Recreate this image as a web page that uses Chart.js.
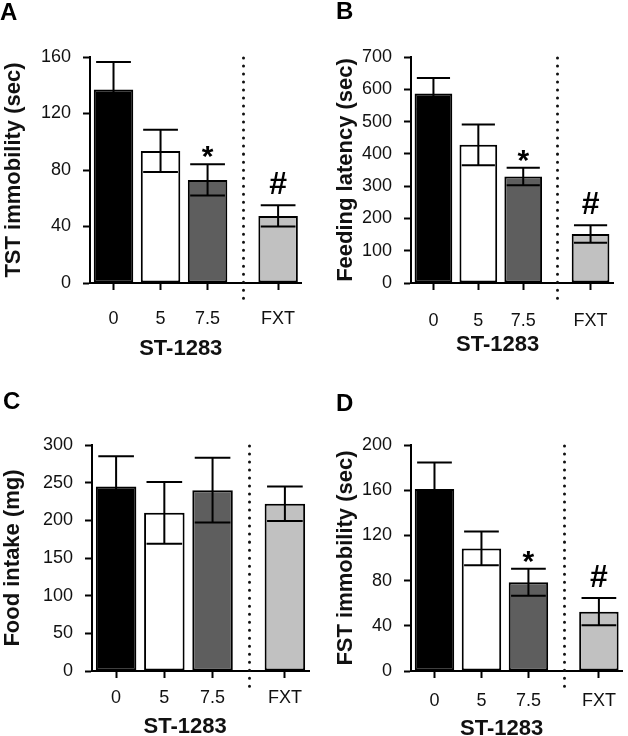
<!DOCTYPE html>
<html lang="en">
<head>
  <meta charset="UTF-8">
  <title>ST-1283 behavioural tests</title>
  <script src="https://cdn.jsdelivr.net/npm/chart.js"></script>
  <style>
    body {
      margin: 0;
      background: #fff;
      font-family: "Liberation Sans", Arial, sans-serif;
    }
    .wrap {
      position: relative;
      width: 628px;
      height: 736px;
    }
    .panel {
      position: absolute;
      width: 314px;
      height: 368px;
    }
  </style>
</head>
<body>
  <div class="wrap">
    <div class="panel" style="left:0;top:0"><canvas id="panelA" width="314" height="368"></canvas></div>
    <div class="panel" style="left:314px;top:0"><canvas id="panelB" width="314" height="368"></canvas></div>
    <div class="panel" style="left:0;top:368px"><canvas id="panelC" width="314" height="368"></canvas></div>
    <div class="panel" style="left:314px;top:368px"><canvas id="panelD" width="314" height="368"></canvas></div>
  </div>
  <script>
    // groups: three ST-1283 doses and fluoxetine
    const categories = ['0', '5', '7.5', 'FXT'];
    const groupPositions = [0, 1, 2, 3.5];
    const dividerPosition = 2.75;
    const xAxisTitle = 'ST-1283';
    const sigMarks = ['', '', '*', '#'];
    const noMarks = ['', '', '', ''];

    const tstValues = [137, 93.5, 73, 47.5];
    const tstErrors = [19.5, 15, 11, 7.5];
    const tstTicks = [0, 40, 80, 120, 160];

    const latencyValues = [587, 428, 330, 152];
    const latencyErrors = [48, 63, 27, 27];
    const latencyTicks = [0, 100, 200, 300, 400, 500, 600, 700];

    const intakeValues = [245, 210, 240, 222];
    const intakeErrors = [40, 41, 43, 23];
    const intakeTicks = [0, 50, 100, 150, 200, 250, 300];

    const fstValues = [161, 108.5, 78.5, 52.5];
    const fstErrors = [23.5, 15, 12, 12];
    const fstTicks = [0, 40, 80, 120, 160, 200];

    const barColors = ['#000000', '#ffffff', '#5e5e5e', '#c1c1c1'];
    const FONT = '"Liberation Sans", Arial, sans-serif';

    // extra drawing: error bars, significance marks, dotted divider, x title, panel letter
    const extrasPlugin = {
      id: 'extras',
      afterDatasetsDraw(chart, args, opts) {
        const ctx = chart.ctx;
        const xs = chart.scales.x, ys = chart.scales.y;
        const meta = chart.getDatasetMeta(0);
        const area = chart.chartArea;
        ctx.save();

        // dotted divider
        const dx = Math.round(xs.getPixelForValue(dividerPosition)) + 0.5;
        ctx.strokeStyle = '#111';
        ctx.lineWidth = 3;
        ctx.lineCap = 'round';
        ctx.setLineDash([0.01, 8]);
        ctx.beginPath();
        ctx.moveTo(dx, area.top + 1);
        ctx.lineTo(dx, area.bottom + 20);
        ctx.stroke();
        ctx.setLineDash([]);

        // error bars
        ctx.lineCap = 'butt';
        ctx.lineWidth = 2;
        ctx.strokeStyle = '#000';
        opts.values.forEach((v, i) => {
          const bar = meta.data[i];
          const x = bar.x;
          const half = bar.width * 0.44;
          const yTop = ys.getPixelForValue(v + opts.errors[i]);
          const yBot = ys.getPixelForValue(v - opts.errors[i]);
          ctx.beginPath();
          ctx.moveTo(x, yTop);
          ctx.lineTo(x, yBot);
          ctx.moveTo(x - half, yTop);
          ctx.lineTo(x + half, yTop);
          ctx.moveTo(x - half, yBot);
          ctx.lineTo(x + half, yBot);
          ctx.stroke();

          const mark = opts.marks[i];
          if (mark) {
            ctx.fillStyle = '#000';
            ctx.textAlign = 'center';
            ctx.textBaseline = 'alphabetic';
            if (mark === '*') {
              ctx.font = 'bold 30px ' + FONT;
              ctx.fillText(mark, x, yTop + 2);
            } else {
              ctx.font = 'bold 32px ' + FONT;
              ctx.fillText(mark, x, yTop - opts.hashGap);
            }
          }
        });

        // x axis title
        ctx.fillStyle = '#111';
        ctx.textAlign = 'center';
        ctx.textBaseline = 'alphabetic';
        ctx.font = 'bold 22px ' + FONT;
        ctx.fillText(xAxisTitle, xs.getPixelForValue(1.43), opts.titleBaseline);

        // panel letter
        ctx.textAlign = 'left';
        ctx.font = 'bold 24px ' + FONT;
        ctx.fillStyle = '#000';
        ctx.fillText(opts.letter, opts.letterX, opts.letterY + 17);
        ctx.restore();
      }
    };

    function makePanel(id, p) {
      const W = 314, H = 368;
      new Chart(document.getElementById(id), {
        type: 'bar',
        data: {
          datasets: [{
            data: groupPositions.map((x, i) => ({ x: x, y: p.values[i] })),
            backgroundColor: barColors,
            borderColor: '#000',
            borderWidth: 2,
            borderSkipped: false,
            barPercentage: 0.84,
            categoryPercentage: 1
          }]
        },
        options: {
          responsive: false,
          animation: false,
          devicePixelRatio: 1,
          layout: { padding: { left: 0, top: p.area.t, right: W - p.area.r, bottom: 0 } },
          plugins: {
            legend: { display: false },
            tooltip: { enabled: false },
            extras: {
              values: p.values, errors: p.errors, marks: p.marks,
              hashGap: 11, titleBaseline: p.titleY + 8,
              letter: p.letter, letterX: p.letterX, letterY: p.letterY
            }
          },
          scales: {
            x: {
              type: 'linear',
              min: -0.5,
              max: 4,
              offset: false,
              afterBuildTicks: (s) => { s.ticks = groupPositions.map(v => ({ value: v })); },
              afterFit: (s) => { s.height = H - p.area.b; },
              ticks: {
                autoSkip: false,
                maxRotation: 0,
                padding: p.tickPad,
                color: '#111',
                font: { family: FONT, size: 18 },
                callback: (v, i) => categories[i]
              },
              grid: {
                offset: false,
                drawOnChartArea: false,
                drawTicks: true,
                tickLength: 7,
                tickWidth: 2,
                tickColor: '#000'
              },
              border: { display: true, color: '#000', width: 2 }
            },
            y: {
              min: 0,
              max: p.ticks[p.ticks.length - 1],
              afterBuildTicks: (s) => { s.ticks = p.ticks.map(v => ({ value: v })); },
              afterFit: (s) => { s.width = p.area.l; },
              ticks: {
                padding: 12,
                color: '#111',
                font: { family: FONT, size: 18 }
              },
              grid: {
                drawOnChartArea: false,
                drawTicks: true,
                tickLength: 7,
                tickWidth: 2,
                tickColor: '#000'
              },
              border: { display: true, color: '#000', width: 2 },
              title: {
                display: true,
                text: p.yTitle,
                color: '#111',
                font: { family: FONT, size: 22, weight: 'bold' },
                padding: { top: p.yTitlePad, bottom: 0 }
              }
            }
          }
        },
        plugins: [extrasPlugin]
      });
    }

    makePanel('panelA', {
      values: tstValues, errors: tstErrors, ticks: tstTicks, marks: sigMarks,
      yTitle: 'TST immobility (sec)', letter: 'A', letterX: 0, letterY: 3,
      area: { l: 90, t: 57, r: 306, b: 283 }, tickPad: 18, titleY: 347, yTitlePad: 1
    });
    makePanel('panelB', {
      values: latencyValues, errors: latencyErrors, ticks: latencyTicks, marks: sigMarks,
      yTitle: 'Feeding latency (sec)', letter: 'B', letterX: 22, letterY: 2,
      area: { l: 97, t: 57, r: 310, b: 283 }, tickPad: 20, titleY: 343, yTitlePad: 19
    });
    makePanel('panelC', {
      values: intakeValues, errors: intakeErrors, ticks: intakeTicks, marks: noMarks,
      yTitle: 'Food intake (mg)', letter: 'C', letterX: 3, letterY: 24,
      area: { l: 92, t: 77, r: 309, b: 303 }, tickPad: 9, titleY: 357, yTitlePad: 0
    });
    makePanel('panelD', {
      values: fstValues, errors: fstErrors, ticks: fstTicks, marks: sigMarks,
      yTitle: 'FST immobility (sec)', letter: 'D', letterX: 22, letterY: 26,
      area: { l: 97, t: 77, r: 313, b: 303 }, tickPad: 12, titleY: 359, yTitlePad: 19
    });
  </script>
</body>
</html>
